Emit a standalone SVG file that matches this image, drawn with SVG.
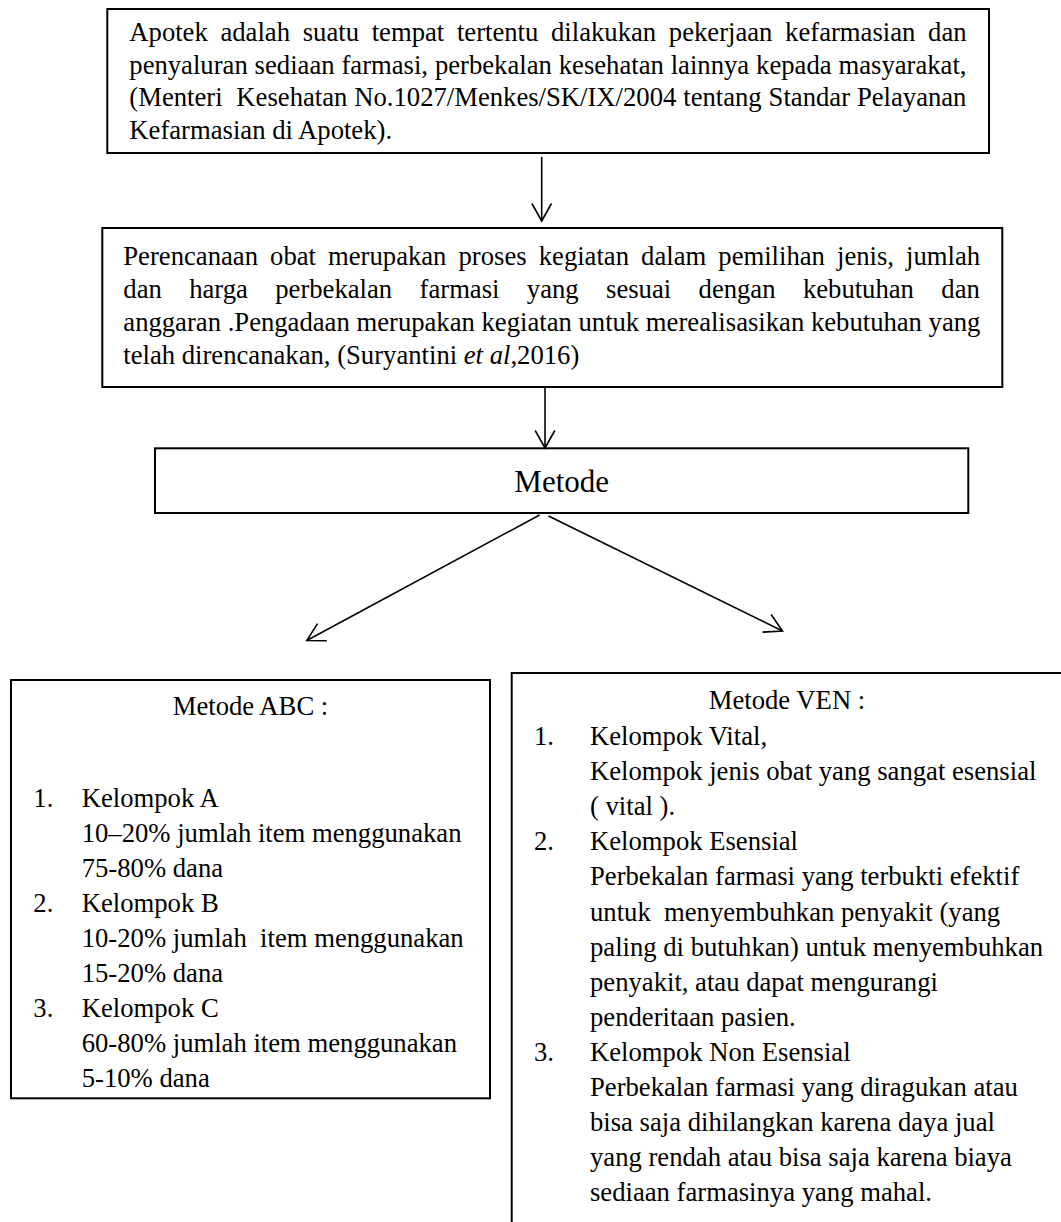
<svg xmlns="http://www.w3.org/2000/svg" width="1061" height="1222" viewBox="0 0 1061 1222">
<defs>
<style>
.box{fill:#fff;stroke:#000;stroke-width:2}
.t{font-family:"Liberation Serif","Times New Roman",serif;font-size:26.67px;fill:#000}
.big{font-size:31px}
.c{text-anchor:middle}
.ln{fill:none;stroke:#000;stroke-width:1.6}
</style>
<marker id="ah" markerUnits="userSpaceOnUse" viewBox="-20 -12 22 24" refX="0" refY="0" markerWidth="22" markerHeight="24" orient="auto">
<path d="M-17.5,-9.8 L0,0 L-17.5,9.8" fill="none" stroke="#000" stroke-width="1.6"/>
</marker>
</defs>
<rect width="1061" height="1222" fill="#fff"/>

<g id="node-apotek">
<rect class="box" x="107.3" y="9" width="881.7" height="144"/>
<text class="t" x="129.3" y="40.7" word-spacing="6.03">Apotek adalah suatu tempat tertentu dilakukan pekerjaan kefarmasian dan</text>
<text class="t" x="129.3" y="73.5" word-spacing="0.23">penyaluran sediaan farmasi, perbekalan kesehatan lainnya kepada masyarakat,</text>
<text class="t" x="129.3" y="106.3" word-spacing="0.23">(Menteri &#160;Kesehatan No.1027/Menkes/SK/IX/2004 tentang Standar Pelayanan</text>
<text class="t" x="129.3" y="139">Kefarmasian di Apotek).</text>
</g>

<g id="node-perencanaan">
<rect class="box" x="102.3" y="228" width="900" height="159"/>
<text class="t" x="123.3" y="264.5" word-spacing="5.42">Perencanaan obat merupakan proses kegiatan dalam pemilihan jenis, jumlah</text>
<text class="t" x="123.3" y="297.8" word-spacing="20.71">dan harga perbekalan farmasi yang sesuai dengan kebutuhan dan</text>
<text class="t" x="123.3" y="331.1">anggaran .Pengadaan merupakan kegiatan untuk merealisasikan kebutuhan yang</text>
<text class="t" x="123.3" y="364.4">telah direncanakan, (Suryantini <tspan font-style="italic">et al</tspan>,2016)</text>
</g>

<g id="node-metode">
<rect class="box" x="155" y="448.3" width="813.3" height="64.7"/>
<text class="t big c" x="561.7" y="491.7">Metode</text>
</g>

<g id="node-abc">
<rect class="box" x="11" y="680" width="479" height="418.3"/>
<text class="t c" x="250.5" y="715">Metode ABC :</text>
<text class="t" x="33.3" y="806.7">1.</text>
<text class="t" x="81.7" y="806.7">Kelompok A</text>
<text class="t" x="81.7" y="841.7">10–20% jumlah item menggunakan</text>
<text class="t" x="81.7" y="876.7">75-80% dana</text>
<text class="t" x="33.3" y="911.7">2.</text>
<text class="t" x="81.7" y="911.7">Kelompok B</text>
<text class="t" x="81.7" y="946.7">10-20% jumlah&#160; item menggunakan</text>
<text class="t" x="81.7" y="981.7">15-20% dana</text>
<text class="t" x="33.3" y="1016.7">3.</text>
<text class="t" x="81.7" y="1016.7">Kelompok C</text>
<text class="t" x="81.7" y="1051.7">60-80% jumlah item menggunakan</text>
<text class="t" x="81.7" y="1086.7">5-10% dana</text>
</g>

<g id="node-ven">
<rect class="box" x="511.7" y="673" width="560" height="580"/>
<text class="t c" x="787" y="709.3">Metode VEN :</text>
<text class="t" x="534" y="745">1.</text>
<text class="t" x="590" y="745">Kelompok Vital,</text>
<text class="t" x="590" y="780.1">Kelompok jenis obat yang sangat esensial</text>
<text class="t" x="590" y="815.2">( vital ).</text>
<text class="t" x="534" y="850.3">2.</text>
<text class="t" x="590" y="850.3">Kelompok Esensial</text>
<text class="t" x="590" y="885.4">Perbekalan farmasi yang terbukti efektif</text>
<text class="t" x="590" y="920.5">untuk&#160; menyembuhkan penyakit (yang</text>
<text class="t" x="590" y="955.6">paling di butuhkan) untuk menyembuhkan</text>
<text class="t" x="590" y="990.7">penyakit, atau dapat mengurangi</text>
<text class="t" x="590" y="1025.8">penderitaan pasien.</text>
<text class="t" x="534" y="1060.9">3.</text>
<text class="t" x="590" y="1060.9">Kelompok Non Esensial</text>
<text class="t" x="590" y="1096">Perbekalan farmasi yang diragukan atau</text>
<text class="t" x="590" y="1131.1">bisa saja dihilangkan karena daya jual</text>
<text class="t" x="590" y="1166.2">yang rendah atau bisa saja karena biaya</text>
<text class="t" x="590" y="1201.3">sediaan farmasinya yang mahal.</text>
</g>

<g id="connectors">
<path class="ln" d="M541.7,157 V221" marker-end="url(#ah)"/>
<path class="ln" d="M545,388 V448" marker-end="url(#ah)"/>
<path class="ln" d="M539.6,515 L306.8,640.5" marker-end="url(#ah)"/>
<path class="ln" d="M548.5,516 L782.5,631" marker-end="url(#ah)"/>
</g>
</svg>
